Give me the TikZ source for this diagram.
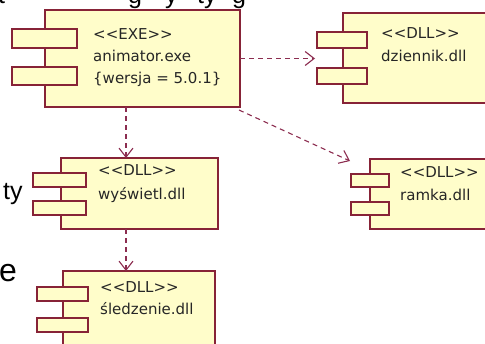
\documentclass[tikz,border=0pt]{standalone}
\usepackage{fontspec}
\setmainfont{DejaVu Sans}[Ligatures=TeXOff]
\newfontfamily\slidefont{Liberation Sans}
\usetikzlibrary{arrows.meta,calc}
\definecolor{compfill}{RGB}{255,253,202}
\definecolor{compline}{RGB}{135,35,55}
\definecolor{depline}{RGB}{140,45,80}
\tikzset{
  comp/.style={draw=compline, fill=compfill, line width=1.3pt, rectangle, inner sep=0pt, outer sep=0pt},
  port/.style={comp},
  lbl/.style={anchor=base west, inner sep=0pt, font=\fontsize{15}{18}\selectfont, text=black!85},
  dep/.style={draw=depline, line width=1.1pt, dash pattern=on 5pt off 4pt,
    -{Straight Barb[length=9pt,width=14pt,line width=1.1pt]}},
  frag/.style={anchor=base west, inner sep=0pt, font=\slidefont\fontsize{25}{28}\selectfont},
}
\begin{document}
\begin{tikzpicture}[x=1pt,y=-1pt]
\useasboundingbox (0,0) rectangle (485,343);
\clip (0,0) rectangle (485,343);

% slide text around the diagram
\node[frag] (f1) at (-2,3) {t};
\node[frag] (f2) at (128,3) {g};
\node[frag] (f3) at (165,3) {y};
\node[frag] (f4) at (197,3) {ty};
\node[frag] (f5) at (232,3) {g};
\node[frag] (f6) at (3,199.5) {ty};
\node[frag, font=\slidefont\fontsize{32}{36}\selectfont] (f7) at (-1,281) {e};

% animator.exe
\node[comp, minimum width=195pt, minimum height=97pt] (anim) at (142.5,58.5) {};
\node[port, minimum width=65pt, minimum height=19pt] (animp1) at (44.5,38.5) {};
\node[port, minimum width=65pt, minimum height=18pt] (animp2) at (44.5,76) {};
\node[lbl] (animt1) at (93,39) {<<EXE>>};
\node[lbl] (animt2) at (93,61) {animator.exe};
\node[lbl] (animt3) at (93,83) {\{wersja = 5.0.1\}};

% dziennik.dll
\node[comp, minimum width=157pt, minimum height=90pt] (dz) at (421.5,58) {};
\node[port, minimum width=50pt, minimum height=16pt] (dzp1) at (342,40) {};
\node[port, minimum width=50pt, minimum height=16pt] (dzp2) at (342,76) {};
\node[lbl] (dzt1) at (381,38) {<<DLL>>};
\node[lbl] (dzt2) at (381,61) {dziennik.dll};

% wyświetl.dll
\node[comp, minimum width=157pt, minimum height=71pt] (wy) at (139.5,193.5) {};
\node[port, minimum width=53pt, minimum height=14pt] (wyp1) at (59.5,180) {};
\node[port, minimum width=53pt, minimum height=14pt] (wyp2) at (59.5,208) {};
\node[lbl] (wyt1) at (98,175) {<<DLL>>};
\node[lbl] (wyt2) at (98,199) {wyświetl.dll};

% ramka.dll
\node[comp, minimum width=130pt, minimum height=70pt] (rm) at (435,194) {};
\node[port, minimum width=38pt, minimum height=13pt] (rmp1) at (370,180.5) {};
\node[port, minimum width=38pt, minimum height=13pt] (rmp2) at (370,208.5) {};
\node[lbl] (rmt1) at (400,177) {<<DLL>>};
\node[lbl] (rmt2) at (400,200) {ramka.dll};

% śledzenie.dll
\node[comp, minimum width=152pt, minimum height=89pt] (sl) at (139,315.5) {};
\node[port, minimum width=51pt, minimum height=14pt] (slp1) at (62.5,294) {};
\node[port, minimum width=51pt, minimum height=14pt] (slp2) at (62.5,325) {};
\node[lbl] (slt1) at (100,292) {<<DLL>>};
\node[lbl] (slt2) at (100,314) {śledzenie.dll};

% dependencies
\draw[dep] (anim.east) -- ($(anim.east -| dzp1.west)+(-2,0)$);
\draw[dep] ($(anim.south west)+(81,0)$) -- ($(wy.north west)+(65,0)$);
\draw[dep] ($(wy.south west)+(65,0)$) -- ($(sl.north west)+(63,0)$);
\draw[dep] ($(anim.south east)+(-1,3)$) -- ($(rm.north west)+(-20,2)$);
\end{tikzpicture}
\end{document}
